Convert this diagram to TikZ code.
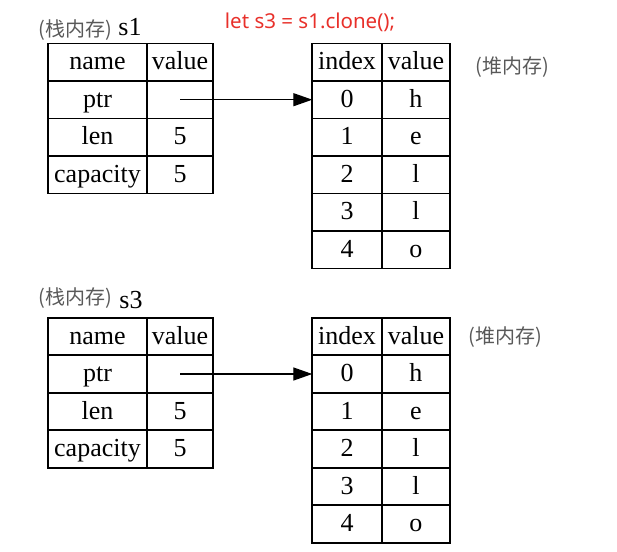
\documentclass[tikz,border=0pt]{standalone}
\usepackage{fontspec}
\setmainfont{Liberation Serif}
\newfontfamily\cjk{Noto Sans CJK SC}
\newfontfamily\codefont{Noto Sans}
\usetikzlibrary{arrows.meta,positioning}
\definecolor{notegray}{HTML}{595959}
\definecolor{codered}{HTML}{E8302A}

\begin{document}
\begin{tikzpicture}[x=1pt,y=-1pt,
	cell/.style={draw,line width=1.8pt,inner sep=0pt,outer sep=0pt,minimum height=37.5pt,text height=18.5pt,text depth=3.5pt,font=\fontsize{26}{26}\selectfont},
	namecol/.style={cell,minimum width=98.4pt},
	valcol/.style={cell,minimum width=66.6pt},
	idxcol/.style={cell,minimum width=69.4pt},
	heapcol/.style={cell,minimum width=68.3pt},
	note/.style={text=notegray,font=\cjk\fontsize{20}{20}\selectfont,inner sep=0pt},
	varname/.style={font=\fontsize{26}{26}\selectfont,inner sep=0pt},
	ptrarrow/.style={line width=1.3pt,-{Triangle[length=19pt,width=13pt]}}]
	\useasboundingbox (0,0) rectangle (617,551);
	% the clone call
	\node[text=codered,font=\codefont\fontsize{20.5}{20.5}\selectfont,inner sep=0pt] (code) at (310,22) {let s3 = s1.clone();};
	\foreach \id/\dy in {s1/0,s3/274.3} {
		% stack part
		\node[namecol] (\id-n0) at (97.5,{62.2+\dy}) {name};
		\node[valcol] (\id-v0) at (180,{62.2+\dy}) {value};
		\foreach \n/\v [count=\i] in {ptr/{},len/5,capacity/5} {
			\node[namecol] (\id-n\i) at (97.5,{62.2+37.5*\i+\dy}) {\n};
			\node[valcol] (\id-v\i) at (180,{62.2+37.5*\i+\dy}) {\v};
		}
		% heap part
		\node[idxcol] (\id-hi) at (347,{62.2+\dy}) {index};
		\node[heapcol] (\id-hv) at (415.9,{62.2+\dy}) {value};
		\foreach \k/\c in {0/h,1/e,2/l,3/l,4/o} {
			\node[idxcol] (\id-i\k) at (347,{99.7+37.5*\k+\dy}) {\k};
			\node[heapcol] (\id-c\k) at (415.9,{99.7+37.5*\k+\dy}) {\c};
		}
		\draw[ptrarrow] (\id-v1.center) -- (\id-i0.west);
	}
	% labels
	\node[note] (stack1) at (75,30) {(栈内存)};
	\node[varname] (name1) at (130,27) {s1};
	\node[note] (heap1) at (512,67) {(堆内存)};
	\node[note] (stack3) at (75,298) {(栈内存)};
	\node[varname] (name3) at (131,300) {s3};
	\node[note] (heap3) at (505,337) {(堆内存)};
\end{tikzpicture}
\end{document}
